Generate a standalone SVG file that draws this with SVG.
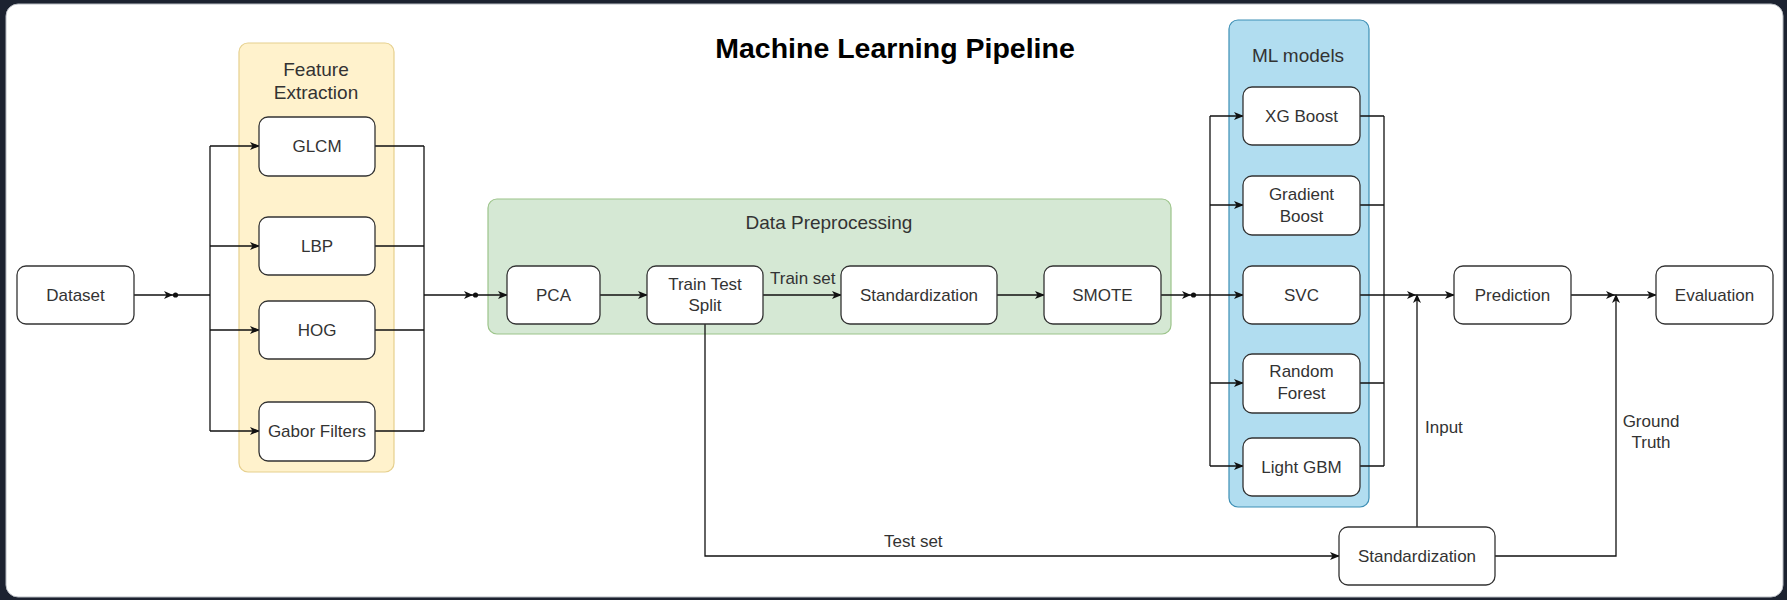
<svg xmlns="http://www.w3.org/2000/svg" width="1787" height="600" viewBox="0 0 1787 600">
  <defs>
    <marker id="arr" viewBox="0 0 10 8" refX="9" refY="4" markerWidth="10" markerHeight="8" markerUnits="userSpaceOnUse" orient="auto">
      <path d="M0,0 L10,4 L0,8 L2.5,4 Z" fill="#111"/>
    </marker>
    <path id="head" d="M-9,-4 L0,0 L-9,4 L-6.5,0 Z" fill="#111"/>
  </defs>
  <style>
    .node rect { fill: #ffffff; stroke: #333333; stroke-width: 1.3; }
    .node text, .lbl { font-family: "Liberation Sans", Arial, sans-serif; font-size: 17px; fill: #333333; text-anchor: middle; }
    .lbl { text-anchor: start; }
    .grp text { font-family: "Liberation Sans", Arial, sans-serif; font-size: 19px; fill: #333333; text-anchor: middle; }
    .edge { fill: none; stroke: #111; stroke-width: 1.3; }
    .title { font-family: "Liberation Sans", Arial, sans-serif; font-size: 28.5px; font-weight: bold; fill: #000; text-anchor: middle; }
  </style>

  <!-- page frame -->
  <rect x="0" y="0" width="1787" height="600" fill="#1c2230"/>
  <rect x="6" y="4" width="1777" height="593" rx="12" ry="12" fill="#ffffff" stroke="#b8bcc2" stroke-width="1"/>

  <text class="title" x="895" y="58">Machine Learning Pipeline</text>

  <!-- containers -->
  <g id="feature-extraction" class="grp">
    <rect x="239" y="43" width="155" height="429" rx="9" fill="#fff2cc" stroke="#e6d08e" stroke-width="1.2"/>
    <text x="316" y="76">Feature</text>
    <text x="316" y="99">Extraction</text>
  </g>
  <g id="data-preprocessing" class="grp">
    <rect x="488" y="199" width="683" height="135" rx="9" fill="#d5e8d4" stroke="#9cc48a" stroke-width="1.2"/>
    <text x="829" y="229">Data Preprocessing</text>
  </g>
  <g id="ml-models" class="grp">
    <rect x="1229" y="20" width="140" height="487" rx="9" fill="#b1ddf0" stroke="#3d8fb5" stroke-width="1.2"/>
    <text x="1298" y="62">ML models</text>
  </g>

  <!-- connectors -->
  <g id="connectors">
    <!-- dataset to feature extractors -->
    <path class="edge" d="M134,295 H210"/>
    <path class="edge" d="M210,146 V431"/>
    <path class="edge" d="M210,146 H259" marker-end="url(#arr)"/>
    <path class="edge" d="M210,246 H259" marker-end="url(#arr)"/>
    <path class="edge" d="M210,330 H259" marker-end="url(#arr)"/>
    <path class="edge" d="M210,431 H259" marker-end="url(#arr)"/>
    <!-- feature extractors to PCA -->
    <path class="edge" d="M375,146 H424 M375,246 H424 M375,330 H424 M375,431 H424"/>
    <path class="edge" d="M424,146 V431"/>
    <path class="edge" d="M424,295 H507" marker-end="url(#arr)"/>
    <!-- preprocessing chain -->
    <path class="edge" d="M600,295 H647" marker-end="url(#arr)"/>
    <path class="edge" d="M763,295 H841" marker-end="url(#arr)"/>
    <path class="edge" d="M997,295 H1044" marker-end="url(#arr)"/>
    <!-- SMOTE to models -->
    <path class="edge" d="M1161,295 H1210"/>
    <path class="edge" d="M1210,116 V466"/>
    <path class="edge" d="M1210,116 H1243" marker-end="url(#arr)"/>
    <path class="edge" d="M1210,205 H1243" marker-end="url(#arr)"/>
    <path class="edge" d="M1210,295 H1243" marker-end="url(#arr)"/>
    <path class="edge" d="M1210,383 H1243" marker-end="url(#arr)"/>
    <path class="edge" d="M1210,466 H1243" marker-end="url(#arr)"/>
    <!-- models to prediction -->
    <path class="edge" d="M1360,116 H1384 M1360,205 H1384 M1360,295 H1384 M1360,383 H1384 M1360,466 H1384"/>
    <path class="edge" d="M1384,116 V466"/>
    <path class="edge" d="M1384,295 H1454" marker-end="url(#arr)"/>
    <!-- prediction to evaluation -->
    <path class="edge" d="M1571,295 H1656" marker-end="url(#arr)"/>
    <!-- test set branch -->
    <path class="edge" d="M705,324 V556 H1339" marker-end="url(#arr)"/>
    <!-- input and ground truth -->
    <path class="edge" d="M1417,527 V296"/>
    <path class="edge" d="M1495,556 H1616 V296"/>

    <!-- junction heads -->
    <use href="#head" transform="translate(173,295)"/>
    <circle cx="175.5" cy="295" r="2.6" fill="#111"/>
    <use href="#head" transform="translate(473,295)"/>
    <circle cx="475.5" cy="295" r="2.6" fill="#111"/>
    <use href="#head" transform="translate(1191,295)"/>
    <circle cx="1193.5" cy="295" r="2.6" fill="#111"/>
    <use href="#head" transform="translate(1416,295)"/>
    <use href="#head" transform="translate(1417,294) rotate(-90)"/>
    <use href="#head" transform="translate(1615,295)"/>
    <use href="#head" transform="translate(1616,294) rotate(-90)"/>
  </g>

  <!-- edge labels -->
  <text class="lbl" x="770" y="284">Train set</text>
  <text class="lbl" x="884" y="547">Test set</text>
  <text class="lbl" x="1425" y="433">Input</text>
  <text class="lbl" x="1651" y="427" style="text-anchor:middle">Ground</text>
  <text class="lbl" x="1651" y="448" style="text-anchor:middle">Truth</text>

  <!-- nodes -->
  <g id="dataset" class="node"><rect x="17" y="266" width="117" height="58" rx="9"/><text x="75.5" y="301">Dataset</text></g>
  <g id="glcm" class="node"><rect x="259" y="117" width="116" height="59" rx="9"/><text x="317" y="152">GLCM</text></g>
  <g id="lbp" class="node"><rect x="259" y="217" width="116" height="58" rx="9"/><text x="317" y="252">LBP</text></g>
  <g id="hog" class="node"><rect x="259" y="301" width="116" height="58" rx="9"/><text x="317" y="336">HOG</text></g>
  <g id="gabor" class="node"><rect x="259" y="402" width="116" height="59" rx="9"/><text x="317" y="437">Gabor Filters</text></g>

  <g id="pca" class="node"><rect x="507" y="266" width="93" height="58" rx="9"/><text x="553.5" y="301">PCA</text></g>
  <g id="train-test-split" class="node"><rect x="647" y="266" width="116" height="58" rx="9"/><text x="705" y="290">Train Test</text><text x="705" y="311">Split</text></g>
  <g id="standardization" class="node"><rect x="841" y="266" width="156" height="58" rx="9"/><text x="919" y="301">Standardization</text></g>
  <g id="smote" class="node"><rect x="1044" y="266" width="117" height="58" rx="9"/><text x="1102.5" y="301">SMOTE</text></g>

  <g id="xgboost" class="node"><rect x="1243" y="87" width="117" height="58" rx="9"/><text x="1301.5" y="122">XG Boost</text></g>
  <g id="gradient-boost" class="node"><rect x="1243" y="176" width="117" height="59" rx="9"/><text x="1301.5" y="200">Gradient</text><text x="1301.5" y="222">Boost</text></g>
  <g id="svc" class="node"><rect x="1243" y="266" width="117" height="58" rx="9"/><text x="1301.5" y="301">SVC</text></g>
  <g id="random-forest" class="node"><rect x="1243" y="354" width="117" height="59" rx="9"/><text x="1301.5" y="377">Random</text><text x="1301.5" y="399">Forest</text></g>
  <g id="light-gbm" class="node"><rect x="1243" y="438" width="117" height="58" rx="9"/><text x="1301.5" y="473">Light GBM</text></g>

  <g id="prediction" class="node"><rect x="1454" y="266" width="117" height="58" rx="9"/><text x="1512.5" y="301">Prediction</text></g>
  <g id="evaluation" class="node"><rect x="1656" y="266" width="117" height="58" rx="9"/><text x="1714.5" y="301">Evaluation</text></g>
  <g id="test-standardization" class="node"><rect x="1339" y="527" width="156" height="58" rx="9"/><text x="1417" y="562">Standardization</text></g>
</svg>
